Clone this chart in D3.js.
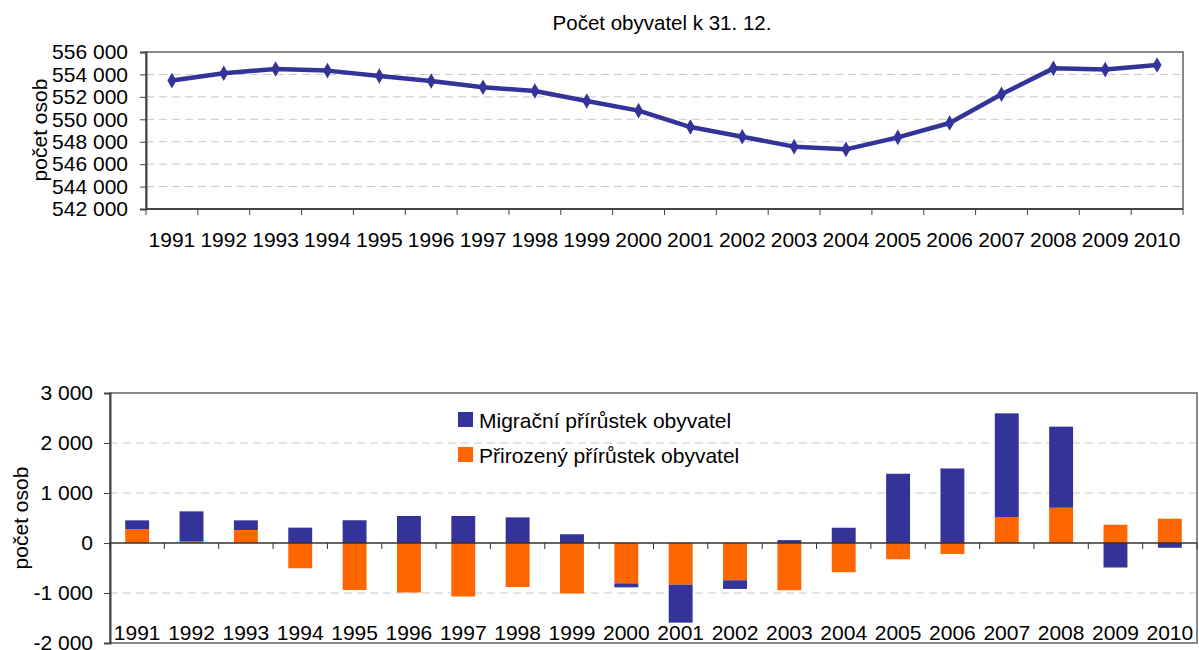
<!DOCTYPE html>
<html>
<head>
<meta charset="utf-8">
<script src="https://cdn.jsdelivr.net/npm/d3@7"></script>
<style>
  body { margin: 0; background: #fff; }
  svg text { font-family: "Liberation Sans", Arial, sans-serif; fill: #000; }
</style>
</head>
<body>
<div id="chart"></div>
<script>
// data
var years = ["1991","1992","1993","1994","1995","1996","1997","1998","1999","2000",
             "2001","2002","2003","2004","2005","2006","2007","2008","2009","2010"];
var population = [553450, 554100, 554490, 554340, 553860, 553410, 552850, 552520, 551630, 550770,
                  549310, 548450, 547560, 547320, 548390, 549670, 552230, 554540, 554430, 554840];
var natural = [280, 40, 260, -505, -940, -990, -1070, -880, -1010, -807,
               -833, -745, -945, -585, -325, -220, 520, 705, 365, 485];
var migration = [173, 593, 193, 307, 455, 540, 540, 512, 175, -80,
                 -760, -173, 58, 305, 1385, 1490, 2073, 1622, -490, -95];
var popTicks = [542000, 544000, 546000, 548000, 550000, 552000, 554000, 556000];
var balTicks = [-2000, -1000, 0, 1000, 2000, 3000];

var W = 1199, H = 650;
var fmt = function (d) { return d3.format(",")(d).replace(/,/g, " ").replace("\u2212", "-"); };
var navy = "#333399", orange = "#ff6600";

var svg = d3.select("#chart").append("svg")
    .attr("width", W).attr("height", H);

// ---------- top chart: population ----------
var t = { left: 146, right: 1183, top: 52, bottom: 209 };

var x1 = d3.scaleBand().domain(years).range([t.left, t.right]);
var y1 = d3.scaleLinear().domain([542000, 556000]).range([t.bottom, t.top]);

svg.append("text")
    .attr("x", 662).attr("y", 30)
    .attr("text-anchor", "middle")
    .style("font-size", "20.5px")
    .text("Počet obyvatel k 31. 12.");

// grid
svg.append("g").selectAll("line")
    .data(popTicks.slice(1, -1))
    .enter().append("line")
    .attr("x1", t.left).attr("x2", t.right)
    .attr("y1", d => y1(d)).attr("y2", d => y1(d))
    .attr("stroke", "#c8c8c8").attr("stroke-dasharray", "8,5");

// frame
svg.append("rect")
    .attr("x", t.left).attr("y", t.top)
    .attr("width", t.right - t.left).attr("height", t.bottom - t.top)
    .attr("fill", "none").attr("stroke", "#888").attr("stroke-width", 2);

// y axis
var ay1 = svg.append("g")
    .attr("transform", "translate(" + t.left + ",0)")
    .call(d3.axisLeft(y1).tickValues(popTicks).tickFormat(fmt).tickSize(6).tickPadding(12));
ay1.select(".domain").attr("stroke", "#444").attr("stroke-width", 2);
ay1.selectAll(".tick line").attr("stroke", "#444");
ay1.selectAll("text").style("font-size", "21px");

// x axis: ticks on band edges
var ax1 = svg.append("g").attr("transform", "translate(0," + t.bottom + ")");
ax1.append("line").attr("x1", t.left).attr("x2", t.right)
    .attr("stroke", "#444").attr("stroke-width", 2);
ax1.selectAll(".tk").data(years.concat(["end"]))
    .enter().append("line")
    .attr("x1", (d, i) => t.left + i * x1.bandwidth())
    .attr("x2", (d, i) => t.left + i * x1.bandwidth())
    .attr("y1", 0).attr("y2", 6).attr("stroke", "#444");
ax1.selectAll("text").data(years)
    .enter().append("text")
    .attr("x", d => x1(d) + x1.bandwidth() / 2)
    .attr("y", 38)
    .attr("text-anchor", "middle")
    .style("font-size", "21px")
    .text(d => d);

svg.append("text")
    .attr("transform", "translate(47,130) rotate(-90)")
    .attr("text-anchor", "middle")
    .style("font-size", "21px")
    .text("počet osob");

// line
var line = d3.line()
    .x((d, i) => x1(years[i]) + x1.bandwidth() / 2)
    .y(d => y1(d));

svg.append("path")
    .datum(population)
    .attr("d", line)
    .attr("fill", "none")
    .attr("stroke", navy)
    .attr("stroke-width", 4.5)
    .attr("stroke-linejoin", "round");

svg.append("g").selectAll("path")
    .data(population)
    .enter().append("path")
    .attr("d", d3.symbol().type(d3.symbolDiamond).size(70))
    .attr("transform", (d, i) => "translate(" + (x1(years[i]) + x1.bandwidth() / 2) + "," + y1(d) + ")")
    .attr("fill", navy);

// ---------- bottom chart: balance ----------
var b = { left: 110, right: 1197, top: 393, bottom: 643 };

var x2 = d3.scaleBand().domain(years).range([b.left, b.right]).paddingInner(0.56).paddingOuter(0.28);
var y2 = d3.scaleLinear().domain([-2000, 3000]).range([b.bottom, b.top]);

svg.append("g").selectAll("line")
    .data(balTicks.filter(d => d !== 0 && d !== -2000 && d !== 3000))
    .enter().append("line")
    .attr("x1", b.left).attr("x2", b.right)
    .attr("y1", d => y2(d)).attr("y2", d => y2(d))
    .attr("stroke", "#c8c8c8").attr("stroke-dasharray", "8,5");

// stacked bars, positive and negative stacked apart (natural nearest zero)
var rows = years.map((yr, i) => ({ year: yr, natural: natural[i], migration: migration[i] }));
var stack = d3.stack().keys(["natural", "migration"]).offset(d3.stackOffsetDiverging);
var series = stack(rows);
var colors = { natural: orange, migration: navy };

svg.append("g").selectAll("g")
    .data(series)
    .enter().append("g")
    .attr("fill", d => colors[d.key])
    .selectAll("rect")
    .data(d => d)
    .enter().append("rect")
    .attr("x", d => x2(d.data.year))
    .attr("width", x2.bandwidth())
    .attr("y", d => y2(d[1]))
    .attr("height", d => y2(d[0]) - y2(d[1]));

svg.append("rect")
    .attr("x", b.left).attr("y", b.top)
    .attr("width", b.right - b.left).attr("height", b.bottom - b.top)
    .attr("fill", "none").attr("stroke", "#888").attr("stroke-width", 2);

var ay2 = svg.append("g")
    .attr("transform", "translate(" + b.left + ",0)")
    .call(d3.axisLeft(y2).tickValues(balTicks).tickFormat(fmt).tickSize(6).tickPadding(11));
ay2.select(".domain").attr("stroke", "#444").attr("stroke-width", 2);
ay2.selectAll(".tick line").attr("stroke", "#444");
ay2.selectAll("text").style("font-size", "21px");

// zero line with ticks at band edges
var step = (b.right - b.left) / years.length;
var ax2 = svg.append("g").attr("transform", "translate(0," + y2(0) + ")");
ax2.append("line").attr("x1", b.left).attr("x2", b.right)
    .attr("stroke", "#333").attr("stroke-width", 1.5);
ax2.selectAll(".tk").data(years.concat(["end"]))
    .enter().append("line")
    .attr("x1", (d, i) => b.left + i * step)
    .attr("x2", (d, i) => b.left + i * step)
    .attr("y1", 0).attr("y2", 6).attr("stroke", "#333");

svg.append("g").selectAll("text")
    .data(years)
    .enter().append("text")
    .attr("x", d => x2(d) + x2.bandwidth() / 2)
    .attr("y", 640)
    .attr("text-anchor", "middle")
    .style("font-size", "21px")
    .text(d => d);

svg.append("text")
    .attr("transform", "translate(28,518) rotate(-90)")
    .attr("text-anchor", "middle")
    .style("font-size", "21px")
    .text("počet osob");

// legend
var legendItems = [
    { label: "Migrační přírůstek obyvatel", color: navy },
    { label: "Přirozený přírůstek obyvatel", color: orange }
];
var lg = svg.append("g").selectAll("g")
    .data(legendItems)
    .enter().append("g")
    .attr("transform", (d, i) => "translate(458," + (412 + i * 35) + ")");
lg.append("rect").attr("width", 15).attr("height", 15).attr("fill", d => d.color);
lg.append("text").attr("x", 21).attr("y", 16)
    .style("font-size", "21px")
    .text(d => d.label);
</script>
</body>
</html>
